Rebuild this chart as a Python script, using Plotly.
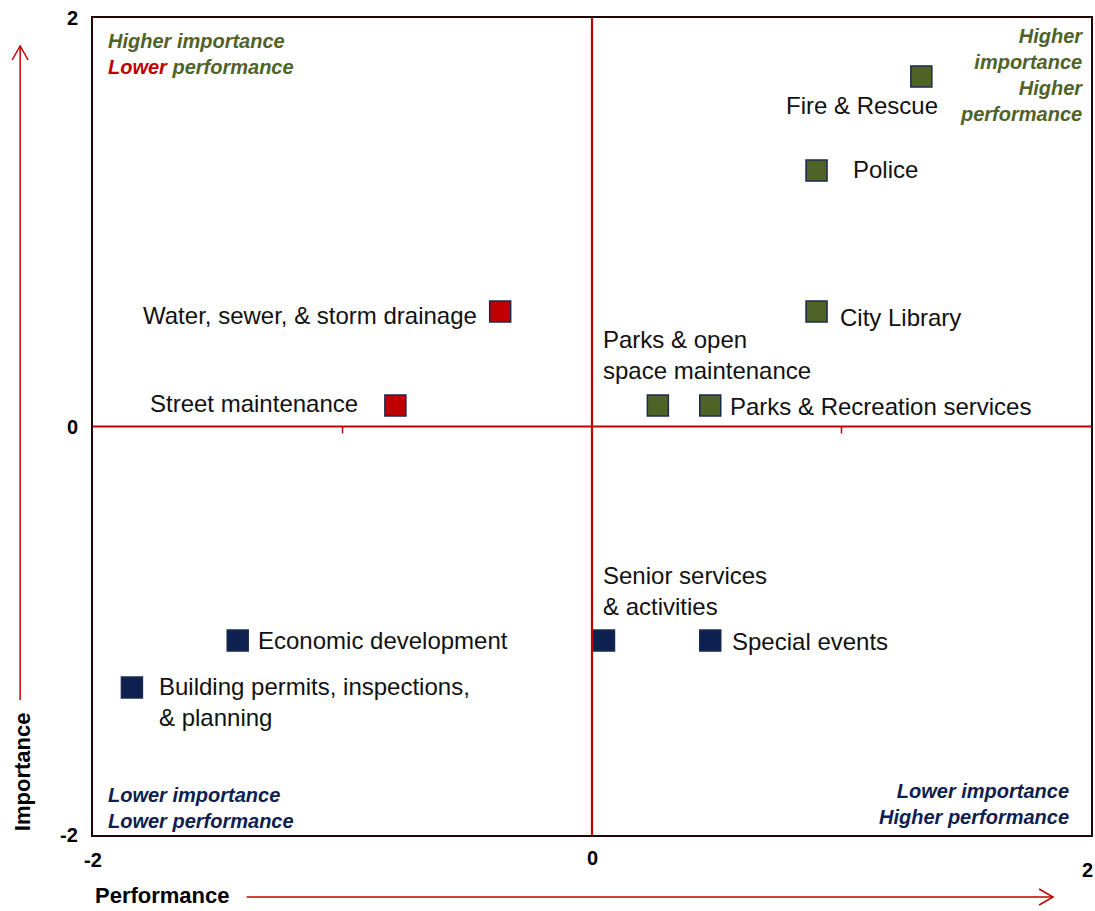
import plotly.graph_objects as go

# ---- data ----
services = ["Fire & Rescue", "Police", "City Library", "Water, sewer, & storm drainage",
            "Street maintenance", "Parks & open<br>space maintenance", "Parks & Recreation services",
            "Economic development", "Building permits, inspections,<br>& planning",
            "Senior services<br>& activities", "Special events"]
performance = [1.32, 0.9, 0.9, -0.368, -0.788, 0.264, 0.474, -1.42, -1.844, 0.048, 0.474]
importance = [1.714, 1.253, 0.563, 0.563, 0.103, 0.103, 0.103, -1.048, -1.278, -1.048, -1.048]
group = ["high", "high", "high", "low_perf", "low_perf", "high", "high", "low", "low", "low", "low"]

# label placement (style): xanchor, xshift, yshift
label_pos = [("right", 19, -29), ("left", 34, 1), ("left", 21, -6), ("right", -21, -4),
             ("right", -35, 2), ("left", -57, 50), ("left", 18, -1), ("left", 18, 0),
             ("left", 25, -14), ("left", -3, 50), ("left", 20, -1)]

axis_ticks = [-2, 0, 2]
minor_ticks = [-1, 1]

GREEN = "#4F6228"
RED = "#C00000"
NAVY = "#0E2050"
EDGE = "#1B2A4E"
FONT = "Liberation Sans, Arial, sans-serif"
color_map = {"high": GREEN, "low_perf": RED, "low": NAVY}

fig = go.Figure()
fig.add_trace(go.Scatter(
    x=performance, y=importance, mode="markers",
    marker=dict(symbol="square", size=21, color=[color_map[g] for g in group],
                line=dict(color=EDGE, width=1.5)),
    hoverinfo="text", text=[s.replace("<br>", " ") for s in services], showlegend=False))

annotations = []
for s, xv, yv, (xa, xs, ys) in zip(services, performance, importance, label_pos):
    annotations.append(dict(x=xv, y=yv, xref="x", yref="y", text=s, showarrow=False,
                            xanchor=xa, yanchor="middle", xshift=xs, yshift=ys, align="left",
                            font=dict(family=FONT, size=24, color="#111111")))

# quadrant labels
qfont = dict(family=FONT, size=20)
def q(text, x, y, xa, color, align):
    annotations.append(dict(x=x, y=y, xref="paper", yref="paper", text=text, showarrow=False,
                            xanchor=xa, yanchor="middle", align=align,
                            font=dict(**qfont, color=color)))

q(f"<b><i>Higher importance<br><span style='color:{RED}'>Lower</span> performance</i></b>",
  0.013, (835 - 54) / 817, "left", GREEN, "left")
q("<b><i>Higher<br>importance<br>Higher<br>performance</i></b>",
  0.994, (835 - 75) / 817, "right", GREEN, "right")
q("<b><i>Lower importance<br>Lower performance</i></b>",
  0.013, (835 - 808) / 817, "left", NAVY, "left")
q("<b><i>Lower importance<br>Higher performance</i></b>",
  0.980, (835 - 804) / 817, "right", NAVY, "right")

# tick labels
tfont = dict(family=FONT, size=20, color="#000000")
for t in axis_ticks:
    annotations.append(dict(x=-0.013, y=(t + 2) / 4, xref="paper", yref="paper",
                            text=f"<b>{t}</b>", showarrow=False, xanchor="right", yanchor="middle",
                            font=tfont))
xt_y = {-2: -25, 0: -23, 2: -35}
for t in axis_ticks:
    annotations.append(dict(x=t, y=0, xref="x", yref="paper", text=f"<b>{t}</b>", showarrow=False,
                            xanchor="center", yanchor="middle", yshift=xt_y[t],
                            xshift=-4 if t == 2 else 0, font=tfont))

# axis titles
annotations.append(dict(x=0, y=(835 - 896) / 817, xref="paper", yref="paper",
                        text="<b>Performance</b>", showarrow=False, xanchor="left", yanchor="middle",
                        font=dict(family=FONT, size=22, color="#000000")))
annotations.append(dict(x=(22 - 93) / 1000, y=(835 - 772) / 817, xref="paper", yref="paper",
                        text="<b>Importance</b>", showarrow=False, textangle=-90,
                        xanchor="center", yanchor="middle",
                        font=dict(family=FONT, size=22, color="#000000")))

shapes = []
# zero lines
shapes.append(dict(type="line", xref="x", yref="paper", x0=0, x1=0, y0=0, y1=1,
                   line=dict(color=RED, width=2.2)))
shapes.append(dict(type="line", xref="paper", yref="y", x0=0, x1=1, y0=0, y1=0,
                   line=dict(color=RED, width=2.2)))
for t in minor_ticks:
    shapes.append(dict(type="line", xref="x", yref="y", ysizemode="pixel", yanchor=0,
                       x0=t, x1=t, y0=0, y1=-7, line=dict(color=RED, width=1.5)))

def px(xp):
    return (xp - 93) / 1000
def py(yp):
    return (835 - yp) / 817

# horizontal arrow
shapes.append(dict(type="line", xref="paper", yref="paper", x0=px(247), x1=px(1055),
                   y0=py(897), y1=py(897), line=dict(color=RED, width=1.5)))
shapes.append(dict(type="path", xref="paper", yref="paper",
                   path=f"M {px(1041)} {py(889)} L {px(1055)} {py(897)} L {px(1041)} {py(905)}",
                   line=dict(color=RED, width=1.5)))
# vertical arrow
shapes.append(dict(type="line", xref="paper", yref="paper", x0=px(20), x1=px(20),
                   y0=py(700), y1=py(46), line=dict(color=RED, width=1.5)))
shapes.append(dict(type="path", xref="paper", yref="paper",
                   path=f"M {px(12)} {py(60)} L {px(20)} {py(46)} L {px(28)} {py(60)}",
                   line=dict(color=RED, width=1.5)))

axis_common = dict(range=[-2, 2], showgrid=False, zeroline=False, showticklabels=False,
                   ticks="", showline=True, mirror=True, linecolor="#220505", linewidth=2,
                   fixedrange=True)

fig.update_layout(
    width=1095, height=911,
    margin=dict(l=93, r=2, t=18, b=76),
    paper_bgcolor="white", plot_bgcolor="white",
    xaxis=axis_common, yaxis=axis_common,
    annotations=annotations, shapes=shapes,
    font=dict(family=FONT),
    showlegend=False,
)

fig.write_html("out.html", config={"displayModeBar": False},
               post_script="document.body.style.margin='0';document.body.style.overflow='hidden';")
